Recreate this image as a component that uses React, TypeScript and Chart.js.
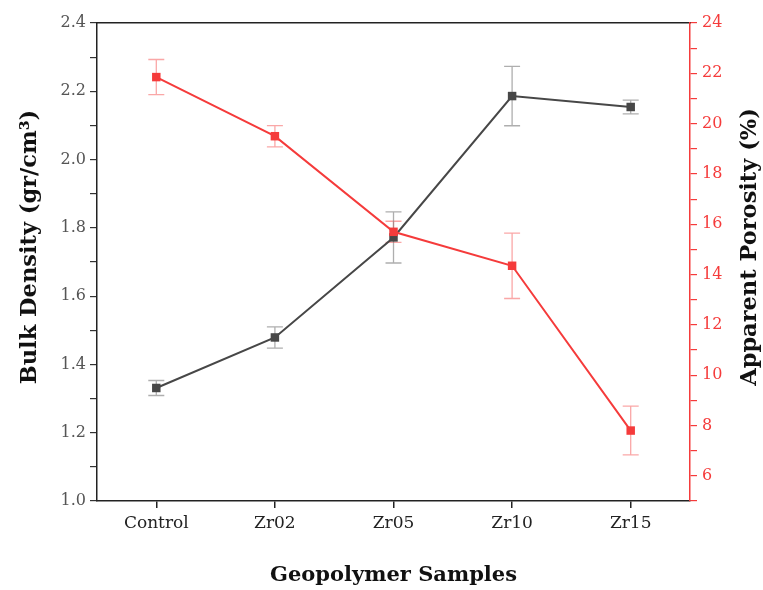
import React, { useEffect, useRef } from "react";
import { Chart, registerables } from "chart.js";

Chart.register(...registerables);

const categories = ["Control", "Zr02", "Zr05", "Zr10", "Zr15"];
const bulkDensity = [1.331, 1.479, 1.772, 2.186, 2.154];
const bulkDensityErr = [0.022, 0.031, 0.075, 0.087, 0.02];
const porosity = [21.85, 19.5, 15.7, 14.35, 7.8];
const porosityErr = [0.7, 0.42, 0.42, 1.3, 0.97];

const leftTitle = "Bulk Density (gr/cm\u00B3)";
const rightTitle = "Apparent Porosity (%)";
const xTitle = "Geopolymer Samples";

const FONT = "'DejaVu Serif', 'Liberation Serif', serif";
const BLACK = "#474747";
const RED = "#f53b3b";

const errorBarPlugin = {
  id: "errorBars",
  beforeDatasetsDraw(chart: any) {
    const ctx = chart.ctx;
    chart.data.datasets.forEach((ds: any, i: number) => {
      const meta = chart.getDatasetMeta(i);
      const yScale = chart.scales[ds.yAxisID];
      const errs: number[] = ds.errors;
      ctx.save();
      ctx.strokeStyle = ds.errorColor;
      ctx.lineWidth = 1.3;
      meta.data.forEach((pt: any, j: number) => {
        const v = ds.data[j];
        const e = errs[j];
        const yTop = yScale.getPixelForValue(v + e);
        const yBot = yScale.getPixelForValue(v - e);
        const x = pt.x;
        ctx.beginPath();
        ctx.moveTo(x, yTop);
        ctx.lineTo(x, yBot);
        ctx.moveTo(x - 8, yTop);
        ctx.lineTo(x + 8, yTop);
        ctx.moveTo(x - 8, yBot);
        ctx.lineTo(x + 8, yBot);
        ctx.stroke();
      });
      ctx.restore();
    });
  },
};

const sideTitlesPlugin = {
  id: "sideTitles",
  afterDraw(chart: any) {
    const ctx = chart.ctx;
    const area = chart.chartArea;
    const cy = (area.top + area.bottom) / 2 - 15;
    const draw = (text: string, x: number) => {
      ctx.save();
      ctx.translate(x, cy);
      ctx.rotate(-Math.PI / 2);
      ctx.font = `bold 22.5px ${FONT}`;
      ctx.fillStyle = "#111";
      ctx.textAlign = "center";
      ctx.textBaseline = "middle";
      ctx.fillText(text, 0, 0);
      ctx.restore();
    };
    draw(leftTitle, chart.scales.y.left + 12);
    draw(rightTitle, chart.scales.y1.right - 13);
  },
};

export default function App() {
  const ref = useRef<HTMLCanvasElement | null>(null);
  useEffect(() => {
    if (!ref.current) return;
    const chart = new Chart(ref.current, {
      type: "line",
      data: {
        labels: categories,
        datasets: [
          {
            label: "Apparent Porosity",
            data: porosity,
            yAxisID: "y1",
            borderColor: RED,
            backgroundColor: RED,
            borderWidth: 2,
            pointStyle: "rect",
            pointRadius: 6,
            pointBorderWidth: 0,
            tension: 0,
            errors: porosityErr,
            errorColor: "rgba(245,59,59,0.45)",
          } as any,
          {
            label: "Bulk Density",
            data: bulkDensity,
            yAxisID: "y",
            borderColor: BLACK,
            backgroundColor: BLACK,
            borderWidth: 2,
            pointStyle: "rect",
            pointRadius: 6,
            pointBorderWidth: 0,
            tension: 0,
            errors: bulkDensityErr,
            errorColor: "rgba(120,120,120,0.6)",
          } as any,
        ],
      },
      options: {
        responsive: false,
        animation: false,
        layout: { padding: { left: 18, top: 23, right: 0, bottom: 0 } },
        plugins: {
          legend: { display: false },
          tooltip: { enabled: false },
        },
        scales: {
          x: {
            type: "category",
            offset: true,
            position: "bottom",
            grid: {
              drawOnChartArea: false,
              drawTicks: true,
              tickLength: 7,
              color: "#222",
              lineWidth: 1.5,
            },
            border: { color: "#222", width: 1.5 },
            ticks: {
              font: { family: FONT, size: 17 },
              color: "#222",
              padding: 5,
            },
            title: {
              display: true,
              text: xTitle,
              font: { family: FONT, size: 21, weight: "bold" },
              color: "#111",
              padding: { top: 0, bottom: 2 },
            },
            afterFit: (s: any) => {
              s.height = 89;
            },
          },
          xTop: {
            type: "category",
            position: "top",
            offset: true,
            grid: { drawOnChartArea: false, drawTicks: false },
            border: { color: "#222", width: 1.5 },
            ticks: { display: false },
            afterFit: (s: any) => {
              s.height = 0;
            },
          },
          y: {
            type: "linear",
            position: "left",
            min: 1.0,
            max: 2.4,
            grid: {
              drawOnChartArea: false,
              drawTicks: true,
              tickLength: 7,
              color: "#333",
              lineWidth: 1.2,
            },
            border: { color: "#222", width: 1.5 },
            ticks: {
              stepSize: 0.1,
              autoSkip: false,
              font: { family: FONT, size: 16 },
              color: "#555",
              padding: 4,
              callback: (v: any) => {
                const n = Math.round(Number(v) * 10);
                return n % 2 === 0 ? (n / 10).toFixed(1) : "";
              },
            },
            afterFit: (s: any) => {
              s.width = 79;
            },
          },
          y1: {
            type: "linear",
            position: "right",
            min: 5,
            max: 24,
            grid: {
              drawOnChartArea: false,
              drawTicks: true,
              tickLength: 7,
              color: RED,
              lineWidth: 1.2,
            },
            border: { color: RED, width: 1.5 },
            ticks: {
              stepSize: 1,
              autoSkip: false,
              font: { family: FONT, size: 16 },
              color: RED,
              padding: 5,
              callback: (v: any) => {
                const n = Math.round(Number(v));
                return n % 2 === 0 ? String(n) : "";
              },
            },
            afterFit: (s: any) => {
              s.width = 73;
            },
          },
        },
      } as any,
      plugins: [errorBarPlugin, sideTitlesPlugin],
    });
    return () => chart.destroy();
  }, []);
  return (
    <div style={{ position: "fixed", left: 0, top: 0, width: 763, height: 590, background: "#fff" }}>
      <canvas ref={ref} width={763} height={590} style={{ display: "block" }} />
    </div>
  );
}
